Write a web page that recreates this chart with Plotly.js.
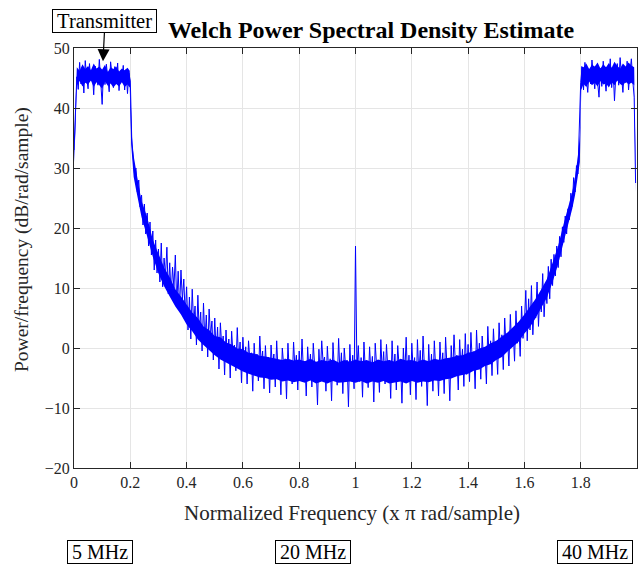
<!DOCTYPE html>
<html>
<head>
<meta charset="utf-8">
<script src="https://cdn.plot.ly/plotly-3.0.1.min.js"></script>
<style>html,body{margin:0;padding:0;background:#fff;}#chart{width:644px;height:567px;}</style>
</head>
<body>
<div id="chart"></div>
<script>
// Welch PSD estimate (dB/rad/sample), 0.005 step in normalized frequency
var freqStep = 0.005;
var psdPassbandLow = [
  33.0, 38.5, 45.2, 43.1, 47.6, 44.0, 46.8, 42.5, 47.9, 45.0, 43.2, 47.4, 44.6, 46.1, 42.2, 47.0, 45.3, 43.8, 48.1, 44.4,
  40.6, 46.5, 43.9, 47.3, 44.8, 42.7, 47.7, 45.6, 43.4, 46.9, 44.1, 47.5, 42.9, 46.2, 44.7, 47.1, 43.0, 46.4, 42.4, 45.8
];
var psdRollOffLow = [
  44.5, 35.0, 31.5, 29.0, 30.0, 26.0, 28.0, 23.5, 25.5, 20.5, 24.0, 19.0, 22.5, 17.0, 21.0, 15.5, 19.5, 13.0, 18.0, 12.5,
  16.5, 11.0, 17.5, 10.2, 15.0, 12.0, 16.8, 9.0, 14.2, 8.5, 13.5, 10.0, 15.5, 7.2, 12.8, 6.5, 13.0, 8.0, 11.5, 5.5,
  10.2, 3.0, 8.5, 1.5, 9.8, 4.0, 7.0, 0.5, 8.8, 2.5, 6.0, -0.5, 7.5, 1.0, 5.5, -1.5, 6.5, 2.0, 4.5, -2.0,
  5.0, -1.0, 3.5, -3.5, 4.2, 0.0, 2.0, -4.5, 3.0, -2.0, 1.5, -5.0, 2.8, -1.2, 0.5, -3.8, 3.4, -2.5, 1.0, -5.8
];
var psdNoiseFloor = [
  1.8, -3.0, 0.2, -6.0, 1.2, -2.2, -0.8, -7.2, 0.8, -3.6, -1.0, -5.5, 2.0, -2.8, -0.5, -6.8, 0.4, -4.2, -1.5, -7.5,
  0.5, -3.2, -1.0, -6.5, 1.2, -4.0, -2.0, -7.8, 0.0, -3.0, -1.8, -8.5, 0.8, -4.5, -2.5, -6.0, 1.0, -3.5, -1.2, -7.0,
  -0.5, -5.0, 1.5, -3.8, -2.2, -8.0, 0.2, -4.2, -1.0, -6.5, 0.8, -3.0, -2.8, -9.5, -0.2, -4.8, 1.2, -2.5, -1.5, -7.2,
  0.3, -4.0, -1.8, -8.8, 0.9, -3.5, -2.4, -6.2, 1.6, -4.6, -0.8, -7.6, 0.0, -3.2, -2.0, -9.8, 0.6, -5.0, -1.2, -6.8,
  17.0, -3.4, 0.4, -5.6, -1.6, -8.2, 1.0, -3.8, -2.6, -6.6, 0.2, -4.4, -1.4, -9.0, 0.8, -3.0, -2.2, -7.4, 1.4, -4.2,
  -0.6, -6.0, 0.6, -3.6, -2.0, -8.4, 1.2, -4.8, -1.0, -7.0, 0.4, -3.2, -2.6, -9.2, 0.0, -4.6, 1.8, -5.4, -1.2, -7.8,
  0.8, -3.8, -1.6, -8.6, 1.4, -4.4, -0.4, -6.4, 2.0, -3.4, -2.2, -9.6, 0.6, -5.2, -1.0, -7.2, 1.2, -3.6, -2.0, -8.0,
  1.0, -4.0, -0.8, -7.6, 1.8, -3.2, -1.8, -8.8, 0.4, -4.8, 2.2, -2.8, -1.2, -7.0, 1.4, -3.6, -0.2, -6.4, 2.4, -4.4
];
var psdRollOffHigh = [
  0.6, -5.6, 2.6, -2.4, -0.6, -6.8, 3.0, -3.0, 0.8, -5.2, 2.0, -1.8, -0.4, -6.0, 3.6, -2.2, 1.2, -4.6, 3.2, -1.6,
  0.4, -4.4, 4.2, -1.0, 2.2, -3.6, 5.0, -0.4, 1.8, -3.0, 5.6, 0.2, 3.0, -2.2, 6.2, 0.8, 3.8, -1.4, 7.0, 1.6,
  4.0, 9.6, 1.2, 8.2, 3.0, 10.4, 2.2, 7.6, 5.0, 11.0, 3.6, 9.0, 6.0, 12.4, 5.2, 10.0, 7.4, 13.6, 8.2, 14.8,
  10.4, 15.6, 12.0, 17.0, 13.4, 18.6, 15.2, 20.2, 17.6, 22.0, 19.0, 23.2, 21.4, 25.8, 23.6, 28.4, 26.0, 30.4, 29.0, 35.0
];
var psdPassbandHigh = [
  44.2, 46.8, 43.0, 47.6, 45.2, 42.6, 46.4, 44.0, 48.0, 45.4, 43.2, 47.0, 44.8, 41.8, 46.6, 43.6, 47.8, 45.0, 42.8, 46.2,
  44.4, 48.2, 43.4, 46.8, 41.2, 45.6, 47.4, 43.8, 48.4, 45.2, 42.6, 46.6, 44.2, 47.8, 43.0, 46.0, 48.2, 44.6, 41.8, 27.5
];
// dense core of the noisy band (where the trace looks solid)
var coreFreq = [
  0, 0.005, 0.01, 0.02, 0.03, 0.04, 0.05, 0.06, 0.07, 0.08, 0.09, 0.10, 0.11, 0.12, 0.13, 0.14, 0.15, 0.16, 0.17, 0.18, 0.19, 0.198,
  0.203, 0.207, 0.212, 0.22, 0.23,
  0.24, 0.26, 0.28, 0.30, 0.32, 0.34, 0.36, 0.38, 0.40, 0.42, 0.44, 0.46, 0.48, 0.50, 0.52, 0.54, 0.56, 0.58,
  0.60, 0.62, 0.64, 0.66, 0.68, 0.70, 0.72, 0.74, 0.76, 0.78, 0.80, 0.82, 0.84, 0.86, 0.88, 0.90, 0.92, 0.94, 0.96, 0.98,
  1.00, 1.02, 1.04, 1.06, 1.08, 1.10, 1.12, 1.14, 1.16, 1.18, 1.20, 1.22, 1.24, 1.26, 1.28, 1.30, 1.32, 1.34, 1.36, 1.38,
  1.40, 1.42, 1.44, 1.46, 1.48, 1.50, 1.52, 1.54, 1.56, 1.58, 1.60, 1.62, 1.64, 1.66, 1.68, 1.70, 1.72, 1.74, 1.76,
  1.77, 1.78, 1.79, 1.797, 1.802,
  1.81, 1.82, 1.83, 1.84, 1.85, 1.86, 1.87, 1.88, 1.89, 1.90, 1.91, 1.92, 1.93, 1.94, 1.95, 1.96, 1.97, 1.98, 1.99, 1.995
];
var coreUpper = [
  33, 40, 46.8, 46.2, 47.3, 46.5, 47.0, 46.3, 47.4, 46.6, 46.9, 46.4, 47.2, 46.0, 46.8, 46.5, 46.9, 46.1, 46.6, 46.3, 46.7, 46.2,
  38, 34, 32, 29.5, 27,
  24.5, 21.8, 18.0, 15.8, 13.4, 11.8, 9.8, 8.6, 7.2, 5.9, 5.0, 3.6, 3.0, 2.0, 1.8, 0.9, 0.6, -0.1,
  -0.2, -0.8, -0.9, -1.3, -1.4, -1.6, -1.7, -2.0, -1.8, -2.1, -1.9, -2.2, -1.8, -2.3, -2.0, -2.2, -1.9, -2.4, -2.0, -2.3,
  -1.9, -2.2, -2.0, -2.4, -1.9, -2.2, -2.0, -2.3, -1.8, -2.1, -2.0, -2.3, -1.9, -2.2, -1.8, -2.0, -1.7, -1.6, -1.3, -1.2,
  -0.8, -0.6, -0.1, 0.2, 0.8, 1.2, 1.9, 2.6, 3.5, 4.4, 5.6, 6.8, 8.2, 9.8, 11.5, 14.2, 17.0, 20.8, 24.2,
  26.0, 28.5, 32.0, 35.5, 47.0,
  46.8, 47.4, 46.5, 47.2, 46.9, 47.6, 46.6, 47.3, 46.8, 47.5, 46.7, 47.7, 47.0, 46.6, 47.4, 46.9, 47.6, 47.1, 46.8, 30
];
var coreLower = [
  31, 36, 43.8, 44.5, 43.6, 44.2, 43.9, 44.6, 43.5, 44.3, 43.8, 43.2, 44.4, 43.7, 44.1, 43.4, 44.0, 43.6, 44.3, 43.5, 43.9, 43.4,
  34, 31, 28.5, 26.5, 24,
  21.8, 18.6, 15.2, 12.4, 10.3, 8.6, 6.9, 5.6, 3.9, 2.8, 1.4, 0.5, -0.4, -1.2, -1.9, -2.4, -3.0, -3.5,
  -3.9, -4.3, -4.6, -4.9, -5.0, -5.3, -5.2, -5.6, -5.4, -5.7, -5.5, -5.8, -5.4, -5.9, -5.6, -5.9, -5.5, -5.8, -5.7, -5.6,
  -5.8, -5.5, -5.9, -5.6, -5.8, -5.5, -5.9, -5.7, -5.6, -5.9, -5.5, -5.8, -5.6, -5.7, -5.4, -5.5, -5.2, -5.1, -4.7, -4.5,
  -4.3, -3.8, -3.6, -3.0, -2.7, -2.0, -1.5, -0.6, 0.2, 1.1, 2.4, 3.5, 5.0, 6.6, 8.4, 11.0, 14.0, 17.8, 21.2,
  23.2, 25.5, 28.5, 31.0, 43.0,
  44.0, 43.5, 44.4, 43.8, 44.2, 43.6, 44.5, 43.9, 44.1, 43.4, 44.3, 43.8, 44.6, 44.0, 43.7, 44.4, 43.9, 44.2, 43.8, 26
];

var xTickVals = [0, 0.2, 0.4, 0.6, 0.8, 1, 1.2, 1.4, 1.6, 1.8];
var xTickText = ['0', '0.2', '0.4', '0.6', '0.8', '1', '1.2', '1.4', '1.6', '1.8'];
var yTickVals = [-20, -10, 0, 10, 20, 30, 40, 50];
var bandLabels = ['5 MHz', '20 MHz', '40 MHz'];

var psd = [].concat(psdPassbandLow, psdRollOffLow, psdNoiseFloor, psdRollOffHigh, psdPassbandHigh);
var freq = psd.map(function (_, i) { return +(i * freqStep).toFixed(4); });

var serif = '"Liberation Serif", "Times New Roman", serif';
var W = 644, H = 567, L = 74, R = 7, T = 48, B = 99;
var pw = W - L - R, ph = H - T - B;
function px(x) { return (x - L) / pw; }
function py(y) { return (H - B - y) / ph; }

var blue = '#0000ff';
var traces = [
  {x: coreFreq, y: coreLower, type: 'scatter', mode: 'lines', line: {width: 0, color: blue}, hoverinfo: 'skip'},
  {x: coreFreq, y: coreUpper, type: 'scatter', mode: 'lines', line: {width: 0, color: blue},
   fill: 'tonexty', fillcolor: blue, hoverinfo: 'skip'},
  {x: freq, y: psd, type: 'scatter', mode: 'lines', line: {color: blue, width: 1}, hoverinfo: 'skip'}
];

var axisCommon = {
  showline: true, linecolor: '#262626', linewidth: 1, mirror: 'ticks',
  ticks: 'inside', ticklen: 6, tickcolor: '#262626', tickwidth: 1,
  showgrid: true, gridcolor: '#e5e5e5', gridwidth: 1, zeroline: false,
  tickfont: {family: serif, size: 16, color: '#262626'}
};

var bandPos = [100, 313, 595];
var annotations = [
  {xref: 'paper', yref: 'paper', x: px(22), y: py(240), xanchor: 'center', yanchor: 'middle',
   text: 'Power/frequency (dB/rad/sample)',
   textangle: -90, showarrow: false, font: {family: serif, size: 19.5, color: '#262626'}},
  {xref: 'paper', yref: 'paper', x: px(351.5), y: py(513), xanchor: 'center', yanchor: 'middle',
   text: 'Normalized Frequency (x \u03c0 rad/sample)',
   showarrow: false, font: {family: serif, size: 21, color: '#262626'}},
  {xref: 'x', yref: 'y', x: 0.103, y: 47.8, text: '\u2009Transmitter\u2009', showarrow: true,
   ax: 2, ay: -40, arrowhead: 2, arrowsize: 2, arrowwidth: 1.2, arrowcolor: '#000',
   bordercolor: '#000', borderwidth: 1, borderpad: 0, bgcolor: '#fff',
   font: {family: serif, size: 20.5, color: '#000'}}
];
bandLabels.forEach(function (t, i) {
  annotations.push({xref: 'paper', yref: 'paper', x: px(bandPos[i]), y: py(552), xanchor: 'center', yanchor: 'middle',
    text: '\u2009' + t + '\u2009', showarrow: false,
    bordercolor: '#000', borderwidth: 1, borderpad: 0, bgcolor: '#fff',
    font: {family: serif, size: 20, color: '#000'}});
});

var layout = {
  width: W, height: H,
  margin: {l: L, r: R, t: T, b: B, pad: 0},
  paper_bgcolor: '#fff', plot_bgcolor: '#fff',
  showlegend: false,
  title: {text: '<b>Welch Power Spectral Density Estimate</b>', x: px(371), xanchor: 'center',
          xref: 'paper', y: 1 - 30 / H, yref: 'container', yanchor: 'middle',
          font: {family: serif, size: 24, color: '#000'}},
  xaxis: Object.assign({}, axisCommon, {range: [0, 2], tickvals: xTickVals, ticktext: xTickText}),
  yaxis: Object.assign({}, axisCommon, {range: [-20, 50], tickvals: yTickVals}),
  annotations: annotations
};

Plotly.newPlot('chart', traces, layout, {displayModeBar: false, staticPlot: true});
</script>
</body>
</html>
